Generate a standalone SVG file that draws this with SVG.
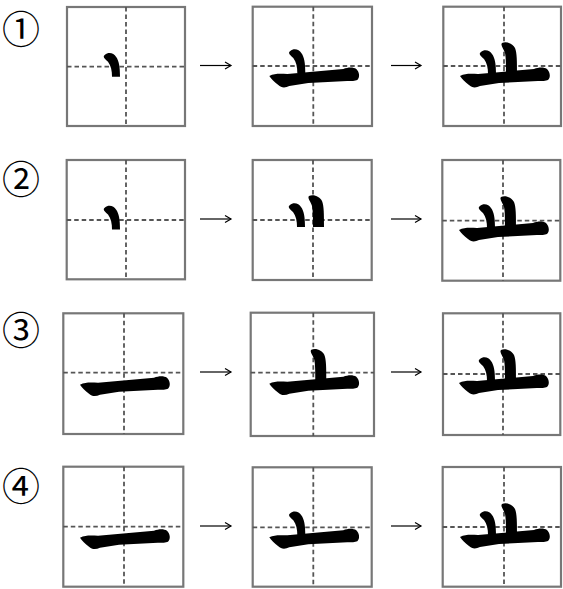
<svg xmlns="http://www.w3.org/2000/svg" xmlns:xlink="http://www.w3.org/1999/xlink" width="563" height="589" viewBox="0 0 563 589">
<style>
.box{fill:#fff;stroke:#777;stroke-width:2.2}
.guide{stroke:#555;stroke-width:1.8;stroke-dasharray:4.5 3;fill:none}
.ink{fill:#000}
.num{font-family:"Noto Sans CJK SC","DejaVu Sans",sans-serif;font-size:38px;fill:#000}
.arrow{stroke:#000;stroke-width:1.2;fill:none}
</style>
<defs>
<path id="sL" class="ink" d="M-23,-14 C-20,-17 -14,-16 -12,-12 C-9,-8 -8,-2 -8,8 L-16,8 C-16,2 -17,-3 -20,-7 C-23,-10 -26,-12 -23,-14 Z"/>
<path id="sR" class="ink" d="M-2,-23 C3,-25 9,-22 11,-18 C13,-13 13,-5 13,8 L2,8 C2,0 2,-8 1,-13 C0,-17 -4,-21 -2,-23 Z"/>
<path id="sH" class="ink" d="M-44,10 C-38,7 -32,8 -26,8 L30,3 C35,1 40,1 43,3 C46,6 47,11 44,14 C42,15 38,15 34,15 L-5,17 L-24,20 C-28,22 -32,22 -35,19 C-39,16 -42,13 -44,10 Z"/>
<marker id="ah" markerWidth="9" markerHeight="9" refX="7" refY="4.5" orient="auto" markerUnits="userSpaceOnUse">
<path d="M1,1 L7,4.5 L1,8" fill="none" stroke="#000" stroke-width="1.2"/>
</marker>
</defs>

<g id="labels">
<text class="num" x="21" y="26" text-anchor="middle" dominant-baseline="central">①</text>
<text class="num" x="21" y="176" text-anchor="middle" dominant-baseline="central">②</text>
<text class="num" x="21" y="327" text-anchor="middle" dominant-baseline="central">③</text>
<text class="num" x="21" y="483" text-anchor="middle" dominant-baseline="central">④</text>
</g>

<g id="r1b1">
<rect class="box" x="67" y="7" width="118" height="119"/>
<line class="guide" x1="67" y1="66.7" x2="185" y2="66.7"/><line class="guide" x1="126" y1="7" x2="126" y2="126"/>
<use href="#sL" transform="translate(128,68.7)"/>
</g>
<g id="r1b2">
<rect class="box" x="252.7" y="6.7" width="119.3" height="119.3"/>
<line class="guide" x1="252.7" y1="66" x2="372" y2="66"/><line class="guide" x1="313.3" y1="6.7" x2="313.3" y2="126"/>
<use href="#sL" transform="translate(313.3,65)"/><use href="#sH" transform="translate(313.3,66)"/>
</g>
<g id="r1b3">
<rect class="box" x="443.3" y="6.7" width="117.7" height="119.3"/>
<line class="guide" x1="443.3" y1="66" x2="561" y2="66"/><line class="guide" x1="504" y1="6.7" x2="504" y2="126"/>
<use href="#sL" transform="translate(504,66)"/><use href="#sR" transform="translate(504,66)"/><use href="#sH" transform="translate(504,66)"/>
</g>

<g id="r2b1">
<rect class="box" x="66.7" y="160" width="118.3" height="119.3"/>
<line class="guide" x1="66.7" y1="220" x2="185" y2="220"/><line class="guide" x1="126" y1="160" x2="126" y2="279.3"/>
<use href="#sL" transform="translate(128,221.5)"/>
</g>
<g id="r2b2">
<rect class="box" x="252.7" y="160" width="119" height="120"/>
<line class="guide" x1="252.7" y1="220" x2="371.7" y2="220"/><line class="guide" x1="313" y1="160" x2="313" y2="280"/>
<use href="#sL" transform="translate(313,219)"/><use href="#sR" transform="translate(311,219)"/>
</g>
<g id="r2b3">
<rect class="box" x="442.3" y="160" width="118" height="120.7"/>
<line class="guide" x1="442.3" y1="220.7" x2="560.3" y2="220.7"/><line class="guide" x1="503" y1="160" x2="503" y2="280.7"/>
<use href="#sL" transform="translate(503,220)"/><use href="#sR" transform="translate(503,220)"/><use href="#sH" transform="translate(503,220)"/>
</g>

<g id="r3b1">
<rect class="box" x="63.3" y="313.3" width="120" height="120.7"/>
<line class="guide" x1="63.3" y1="372.7" x2="183.3" y2="372.7"/><line class="guide" x1="124" y1="313.3" x2="124" y2="434"/>
<use href="#sH" transform="translate(124,374.7)"/>
</g>
<g id="r3b2">
<rect class="box" x="250.7" y="312.7" width="123.3" height="123.3"/>
<line class="guide" x1="250.7" y1="372.7" x2="374" y2="372.7"/><line class="guide" x1="313.3" y1="312.7" x2="313.3" y2="436"/>
<use href="#sR" transform="translate(313.3,372.7)"/><use href="#sH" transform="translate(313.3,373.7)"/>
</g>
<g id="r3b3">
<rect class="box" x="443" y="313.3" width="117.3" height="121.7"/>
<line class="guide" x1="443" y1="374" x2="560.3" y2="374"/><line class="guide" x1="503" y1="313.3" x2="503" y2="435"/>
<use href="#sL" transform="translate(503,373)"/><use href="#sR" transform="translate(503,373)"/><use href="#sH" transform="translate(503,373)"/>
</g>

<g id="r4b1">
<rect class="box" x="63.3" y="466.7" width="120" height="120"/>
<line class="guide" x1="63.3" y1="526.7" x2="183.3" y2="526.7"/><line class="guide" x1="124" y1="466.7" x2="124" y2="586.7"/>
<use href="#sH" transform="translate(124,527.7)"/>
</g>
<g id="r4b2">
<rect class="box" x="252.7" y="467.3" width="119" height="119.4"/>
<line class="guide" x1="252.7" y1="527.3" x2="371.7" y2="527.3"/><line class="guide" x1="313.3" y1="467.3" x2="313.3" y2="586.7"/>
<use href="#sL" transform="translate(313.3,527.3)"/><use href="#sH" transform="translate(313.3,527.3)"/>
</g>
<g id="r4b3">
<rect class="box" x="442.7" y="467" width="118.3" height="119.7"/>
<line class="guide" x1="442.7" y1="527" x2="561" y2="527"/><line class="guide" x1="504" y1="467" x2="504" y2="586.7"/>
<use href="#sL" transform="translate(504,527)"/><use href="#sR" transform="translate(504,527)"/><use href="#sH" transform="translate(504,527)"/>
</g>

<g id="connectors">
<line class="arrow" x1="200" y1="65.5" x2="231" y2="65.5" marker-end="url(#ah)"/>
<line class="arrow" x1="391" y1="65.5" x2="421" y2="65.5" marker-end="url(#ah)"/>
<line class="arrow" x1="200" y1="219" x2="231" y2="219" marker-end="url(#ah)"/>
<line class="arrow" x1="391" y1="219" x2="421" y2="219" marker-end="url(#ah)"/>
<line class="arrow" x1="200" y1="372" x2="231" y2="372" marker-end="url(#ah)"/>
<line class="arrow" x1="391" y1="372" x2="421" y2="372" marker-end="url(#ah)"/>
<line class="arrow" x1="200" y1="526" x2="231" y2="526" marker-end="url(#ah)"/>
<line class="arrow" x1="391" y1="526" x2="421" y2="526" marker-end="url(#ah)"/>
</g>
</svg>
